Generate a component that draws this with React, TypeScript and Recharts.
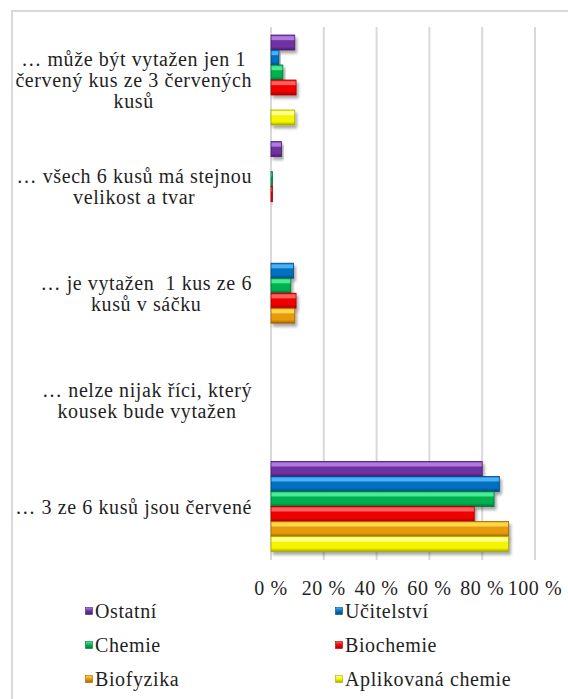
import React from "react"
import { Bar, BarChart, CartesianGrid, XAxis, YAxis } from "recharts"

// kategorie (popisky osy Y, zalomení řádků podle originálu)
const categories = [
  "… může být vytažen jen 1\nčervený kus ze 3 červených\nkusů",
  "… všech 6 kusů má stejnou\nvelikost a tvar",
  "… je vytažen  1 kus ze 6\nkusů v sáčku",
  "… nelze nijak říci, který\nkousek bude vytažen",
  "… 3 ze 6 kusů jsou červené",
]

// hodnoty v %
const ostatni = [9, 4, 0, 0, 80]
const ucitelstvi = [3, 0, 8.5, 0, 86.5]
const chemie = [4.5, 0.6, 7.5, 0, 84.5]
const biochemie = [9.5, 0.6, 9.5, 0, 77]
const biofyzika = [0, 0, 9, 0, 90]
const aplikovana = [9, 0, 0, 0, 90]

const xTicks = [0, 20, 40, 60, 80, 100]

const series = [
  { key: "ostatni", name: "Ostatní", values: ostatni, base: "#7030a0", light: "#b07ae0", dark: "#4a1f6c" },
  { key: "ucitelstvi", name: "Učitelství", values: ucitelstvi, base: "#0070c0", light: "#4bb0f5", dark: "#004a80" },
  { key: "chemie", name: "Chemie", values: chemie, base: "#00b050", light: "#48eb95", dark: "#007535" },
  { key: "biochemie", name: "Biochemie", values: biochemie, base: "#f00000", light: "#ff6060", dark: "#a80000" },
  { key: "biofyzika", name: "Biofyzika", values: biofyzika, base: "#e89a10", light: "#ffd84a", dark: "#a06400" },
  { key: "aplikovana", name: "Aplikovaná chemie", values: aplikovana, base: "#f5f500", light: "#ffff90", dark: "#a8a800" },
]

const data = categories.map((name, i) => {
  const row: any = { name }
  series.forEach(s => { row[s.key] = s.values[i] })
  return row
})

const FONT = '"Liberation Serif", Tinos, "Times New Roman", "DejaVu Serif", serif'
const FS = 20
const LS = 0.6
const LH = 21
const TEXT = "#1f1f1f"

let ctx: CanvasRenderingContext2D | null = null
const measure = (s: string) => {
  if (!ctx) {
    ctx = document.createElement("canvas").getContext("2d")
    if (ctx) ctx.font = `${FS}px ${FONT}`
  }
  const w = ctx ? ctx.measureText(s).width : s.length * FS * 0.45
  return w + s.length * LS
}

// popisky kategorií: blok zarovnaný doprava, řádky uvnitř na střed
const CategoryTick = ({ x, y, payload }: any) => {
  const lines = String(payload.value).split("\n")
  const blockW = Math.max(...lines.map(measure))
  const cx = x - 19 - blockW / 2
  const y0 = y - ((lines.length - 1) * LH) / 2
  return (
    <text x={cx} y={y0} textAnchor="middle" style={{ fontFamily: FONT, letterSpacing: LS }} fontSize={FS} fill={TEXT}>
      {lines.map((l, i) => (
        <tspan key={i} x={cx} y={y0 + i * LH} dominantBaseline="central" style={{ whiteSpace: "pre" }}>
          {l}
        </tspan>
      ))}
    </text>
  )
}

const PercentTick = ({ x, y, payload }: any) => (
  <text x={x} y={y + 28} textAnchor="middle" dominantBaseline="central" style={{ fontFamily: FONT, letterSpacing: LS }} fontSize={FS} fill={TEXT}>
    {`${payload.value} %`}
  </text>
)

const makeShape = (s: typeof series[number]) => (props: any) => {
  const { x, y, width, height } = props
  if (!width || width <= 0) return <g />
  return (
    <g filter="url(#barShadow)">
      <rect x={x} y={y} width={width} height={height} fill={`url(#grad-${s.key})`} stroke={s.dark} strokeWidth={0.8} />
    </g>
  )
}

const LegendIcon = ({ s }: { s: typeof series[number] }) => (
  <svg width={8} height={8} style={{ display: "block" }}>
    <defs>
      <linearGradient id={`lg-${s.key}`} x1="0" y1="0" x2="0" y2="1">
        <stop offset="0%" stopColor={s.light} />
        <stop offset="50%" stopColor={s.base} />
        <stop offset="100%" stopColor={s.dark} />
      </linearGradient>
    </defs>
    <rect x={0.5} y={0.5} width={7} height={7} fill={`url(#lg-${s.key})`} stroke={s.dark} strokeWidth={0.6} />
  </svg>
)

export default function App() {
  return (
    <div style={{ position: "absolute", left: 0, top: 0, width: 568, height: 699, overflow: "hidden", background: "#fff" }}>
      <div style={{ position: "absolute", left: 11, top: 10, width: 620, height: 720, border: "2px solid #d9d9d9" }} />
      <div style={{ position: "absolute", left: 0, top: 0 }}>
        <BarChart
          width={568}
          height={699}
          data={data}
          layout="vertical"
          margin={{ top: 27, right: 33, bottom: 109, left: 10 }}
          barCategoryGap={8}
          barGap={0}
        >
          <defs>
            <filter id="barShadow" x="-10%" y="-30%" width="130%" height="180%">
              <feDropShadow dx={2} dy={3} stdDeviation={1.6} floodColor="#000" floodOpacity={0.35} />
            </filter>
            {series.map(s => (
              <linearGradient key={s.key} id={`grad-${s.key}`} x1="0" y1="0" x2="0" y2="1">
                <stop offset="0%" stopColor={s.base} />
                <stop offset="12%" stopColor={s.light} />
                <stop offset="30%" stopColor={s.light} />
                <stop offset="38%" stopColor={s.base} />
                <stop offset="78%" stopColor={s.base} />
                <stop offset="100%" stopColor={s.dark} />
              </linearGradient>
            ))}
          </defs>
          <CartesianGrid horizontal={false} stroke="#d9d9d9" strokeWidth={2} />
          <XAxis
            type="number"
            domain={[0, 100]}
            ticks={xTicks}
            height={30}
            axisLine={false}
            tickLine={false}
            tickSize={0}
            tickMargin={0}
            tick={<PercentTick />}
            interval={0}
          />
          <YAxis
            type="category"
            dataKey="name"
            width={261}
            axisLine={false}
            tickLine={false}
            tickSize={0}
            tickMargin={0}
            interval={0}
            tick={<CategoryTick />}
          />
          {series.map(s => (
            <Bar key={s.key} dataKey={s.key} name={s.name} isAnimationActive={false} shape={makeShape(s)} />
          ))}
        </BarChart>
      </div>
      <div
        style={{
          position: "absolute",
          left: 85,
          top: 594,
          display: "grid",
          gridTemplateColumns: "250px 200px",
          rowGap: 0,
          fontFamily: FONT,
          fontSize: FS,
          letterSpacing: LS,
          color: TEXT,
        }}
      >
        {series.map(s => (
          <div key={s.key} style={{ display: "flex", alignItems: "center", height: 34, gap: 2 }}>
            <LegendIcon s={s} />
            <span>{s.name}</span>
          </div>
        ))}
      </div>
    </div>
  )
}
